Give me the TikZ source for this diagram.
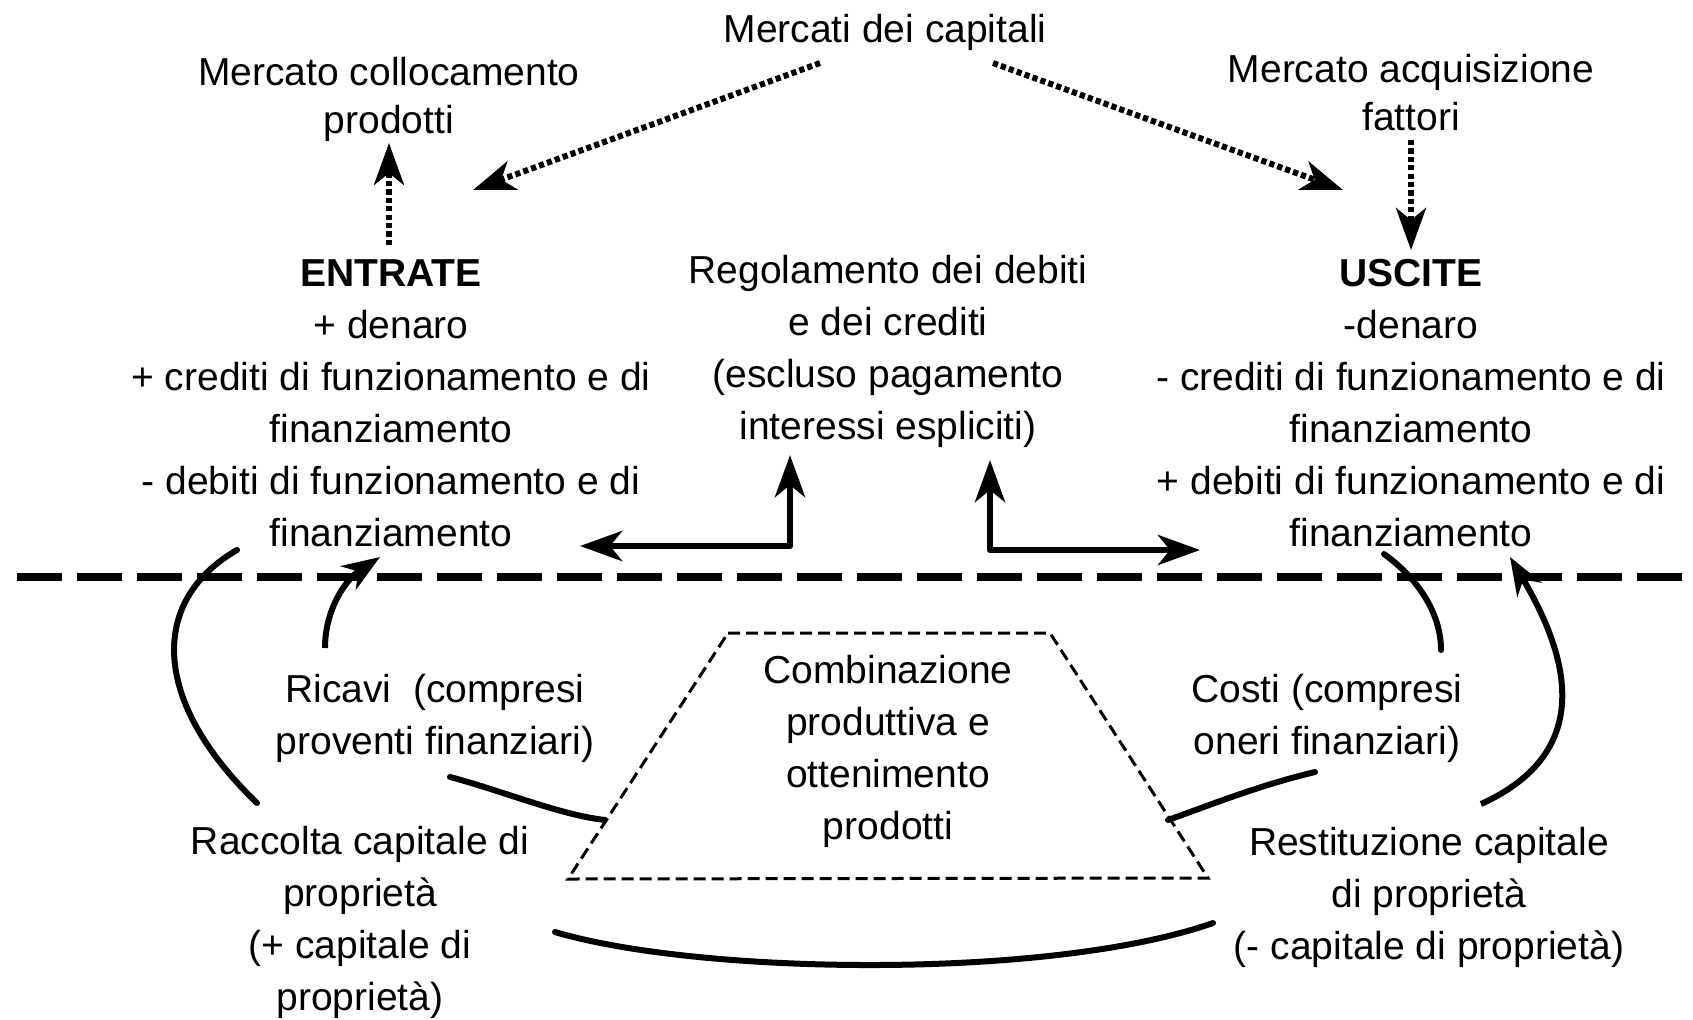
\documentclass[tikz,border=0pt]{standalone}
\usepackage{fontspec}
\setmainfont{Liberation Sans}
\usetikzlibrary{arrows.meta}
\begin{document}
\begin{tikzpicture}[x=0.5pt,y=-0.5pt,
  txt/.style={align=center,inner sep=0pt,font=\fontsize{19.5}{26}\selectfont},
  txtb/.style={align=center,inner sep=0pt,font=\fontsize{19.5}{24}\selectfont},
  bigtip/.style={-{Stealth[length=21pt,width=15pt,inset=6pt]}},
  bothtip/.style={{Stealth[length=21pt,width=15pt,inset=6pt]}-{Stealth[length=21pt,width=15pt,inset=6pt]}},
  dotarr/.style={bigtip,line width=3pt,dash pattern=on 2.6pt off 1.6pt},
  solidarr/.style={bothtip,line width=3.25pt,line join=round},
  flow/.style={line width=3pt,line cap=round},
  flowarr/.style={line width=3pt,-{Stealth[length=19pt,width=14pt,inset=6pt]}},
  sep/.style={line width=4pt,dash pattern=on 22.5pt off 7.5pt},
  trap/.style={line width=1.5pt,dash pattern=on 6pt off 3pt}
]
\useasboundingbox (0,0) rectangle (1693,1019);

% texts
\node[txt] (cap) at (885,32) {Mercati dei capitali};
\node[txtb] (coll) at (389,99) {Mercato collocamento\\prodotti};
\node[txtb] (acq) at (1411,93) {Mercato acquisizione\\fattori};
\node[txt] (ent) at (391,403) {\textbf{ENTRATE}\\+ denaro\\+ crediti di funzionamento e di\\finanziamento\\- debiti di funzionamento e di\\finanziamento};
\node[txt] (reg) at (888,351) {Regolamento dei debiti\\e dei crediti\\(escluso pagamento\\interessi espliciti)};
\node[txt] (usc) at (1411,403) {\textbf{USCITE}\\-denaro\\- crediti di funzionamento e di\\finanziamento\\+ debiti di funzionamento e di\\finanziamento};
\node[txt] (ric) at (435,718) {Ricavi\ \ (compresi\\proventi finanziari)};
\node[txt] (cos) at (1327,718) {Costi (compresi\\oneri finanziari)};
\node[txt] (comb) at (888,751) {Combinazione\\produttiva e\\ottenimento\\prodotti};
\node[txt] (racc) at (360,922) {Raccolta capitale di\\proprietà\\(+ capitale di\\proprietà)};
\node[txt] (rest) at (1429,897) {Restituzione capitale\\di proprietà\\(- capitale di proprietà)};

% dotted market arrows
\coordinate (capL) at (820,63);
\coordinate (entTop) at (473,190);
\coordinate (capR) at (993,63);
\coordinate (uscTop) at (1343,190);
\coordinate (entUp) at (389,245);
\coordinate (collBot) at (389,143);
\coordinate (acqBot) at (1411,140);
\coordinate (uscHead) at (1411,250);
\draw[dotarr] (capL) -- (entTop);
\draw[dotarr] (capR) -- (uscTop);
\draw[dotarr] (entUp) -- (collBot);
\draw[dotarr] (acqBot) -- (uscHead);

% L arrows
\coordinate (lTipH) at (580,546);
\coordinate (lCorner) at (790,546);
\coordinate (lTipV) at (790,455);
\coordinate (rTipV) at (990,460);
\coordinate (rCorner) at (990,550);
\coordinate (rTipH) at (1200,550);
\draw[solidarr] (lTipH) -- (lCorner) -- (lTipV);
\draw[solidarr] (rTipV) -- (rCorner) -- (rTipH);

% separator
\coordinate (sepL) at (17,577);
\coordinate (sepR) at (1693,577);
\draw[sep] (sepL) -- (sepR);

% trapezoid
\coordinate (tTL) at (728,633);
\coordinate (tTR) at (1050,633);
\coordinate (tBR) at (1208,878);
\coordinate (tBL) at (568,879);
\draw[trap] (tTL) -- (tTR) -- (tBR) -- (tBL) -- cycle;

% left curves
\coordinate (raccTop) at (257,803);
\coordinate (lOutEnd) at (237,550);
\draw[flow] (raccTop) .. controls (150,700) and (150,600) .. (lOutEnd);
\coordinate (ricTop) at (325,648);
\coordinate (entBot) at (380,557);
\draw[flowarr] (ricTop) .. controls (325,610) and (345,580) .. (entBot);
\coordinate (ricLine) at (450,777);
\coordinate (trapL) at (605,820);
\draw[flow] (ricLine) .. controls (500,790) and (560,815) .. (trapL);

% right curves
\coordinate (uscBot) at (1384,554);
\coordinate (cosTop) at (1441,650);
\draw[flow] (uscBot) .. controls (1420,580) and (1441,615) .. (cosTop);
\coordinate (restTop) at (1481,804);
\coordinate (uscBot2) at (1510,557);
\draw[flowarr] (restTop) .. controls (1600,750) and (1565,650) .. (uscBot2);
\coordinate (cosLine) at (1315,772);
\coordinate (trapR) at (1168,820);
\draw[flow] (cosLine) .. controls (1260,785) and (1210,805) .. (trapR);

% bottom curve
\coordinate (raccR) at (555,932);
\coordinate (restL) at (1213,923);
\draw[flow] (raccR) .. controls (700,975) and (1050,980) .. (restL);
\end{tikzpicture}
\end{document}
